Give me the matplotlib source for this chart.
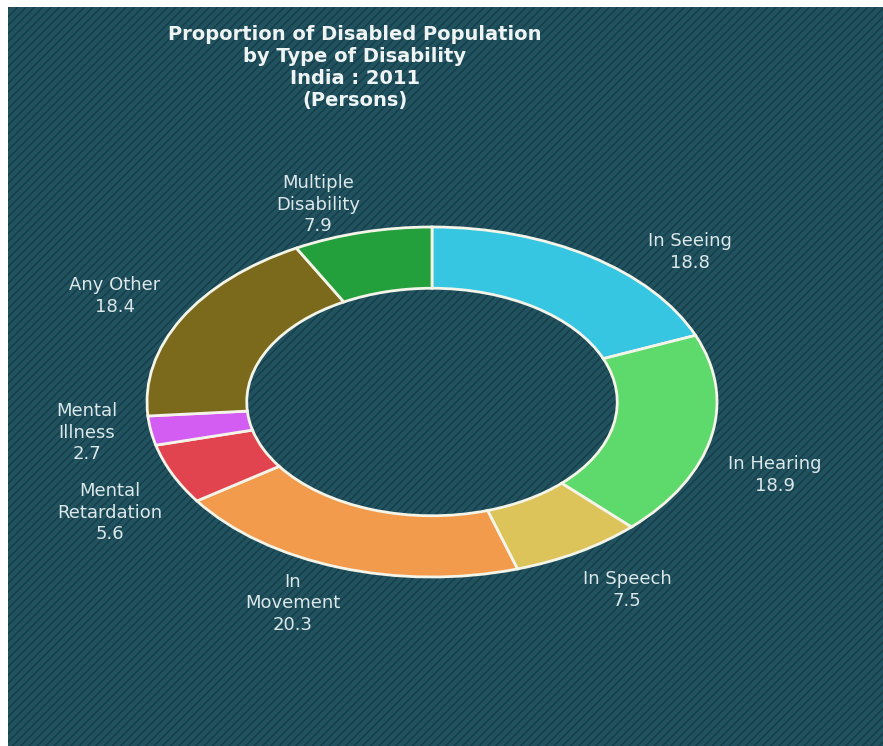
import matplotlib.pyplot as plt
from matplotlib.patches import Rectangle

categories = ['In Seeing', 'In Hearing', 'In Speech', 'In\nMovement', 'Mental\nRetardation',
              'Mental\nIllness', 'Any Other', 'Multiple\nDisability']
shares = [18.8, 18.9, 7.5, 20.3, 5.6, 2.7, 18.4, 7.9]
colors = ['#36C6E2', '#5ED96C', '#DCC45A', '#F29B4C', '#E2444F', '#D35CF2', '#7C6A1C', '#23A03C']

title = 'Proportion of Disabled Population\nby Type of Disability\nIndia : 2011\n(Persons)'

# label anchors in pixel terms (centre x, first line y), converted below
label_px = [(690, 240), (775, 463), (627, 578), (293, 581), (110, 490),
            (87, 410), (115, 284), (318, 182)]

W, H = 883, 746
cx, cy = 432, 402      # ring centre
rx, ry = 285, 175      # outer radii (the ring is drawn as an ellipse)

plt.rcParams['hatch.linewidth'] = 1.0

fig = plt.figure(figsize=(W / 100, H / 100), dpi=100)
fig.patch.set_facecolor('white')

# striped teal panel behind everything
bg_ax = fig.add_axes([0, 0, 1, 1], zorder=0)
bg_ax.axis('off')
bg_ax.add_patch(Rectangle((8 / W, 0), 1 - 8 / W, 1 - 7 / H, transform=bg_ax.transAxes,
                          facecolor='#215260', edgecolor='#163C47', hatch='////', lw=0))

ax = fig.add_axes([0, 0, 1, 1], zorder=1)
ax.patch.set_alpha(0)
ax.pie(shares, colors=colors, startangle=90, counterclock=False, radius=1,
       wedgeprops=dict(width=0.35, edgecolor='#F4F4E8', linewidth=2))
ax.set_aspect('auto')
ax.set_xlim(-cx / rx, (W - cx) / rx)
ax.set_ylim(-(H - cy) / ry, cy / ry)
ax.axis('off')

for (px, py), name, v in zip(label_px, categories, shares):
    ax.text((px - cx) / rx, (cy - py + 8) / ry, f'{name}\n{v}', ha='center', va='top',
            color='#DCE8EA', fontsize=13, family='DejaVu Sans', linespacing=1.25)

ax.text(355 / W, 1 - 25 / H, title, transform=ax.transAxes, ha='center', va='top',
        color='#EEF4F4', fontsize=14, fontweight='bold', family='DejaVu Sans',
        linespacing=1.2)

fig.savefig('out.png', dpi=100)
